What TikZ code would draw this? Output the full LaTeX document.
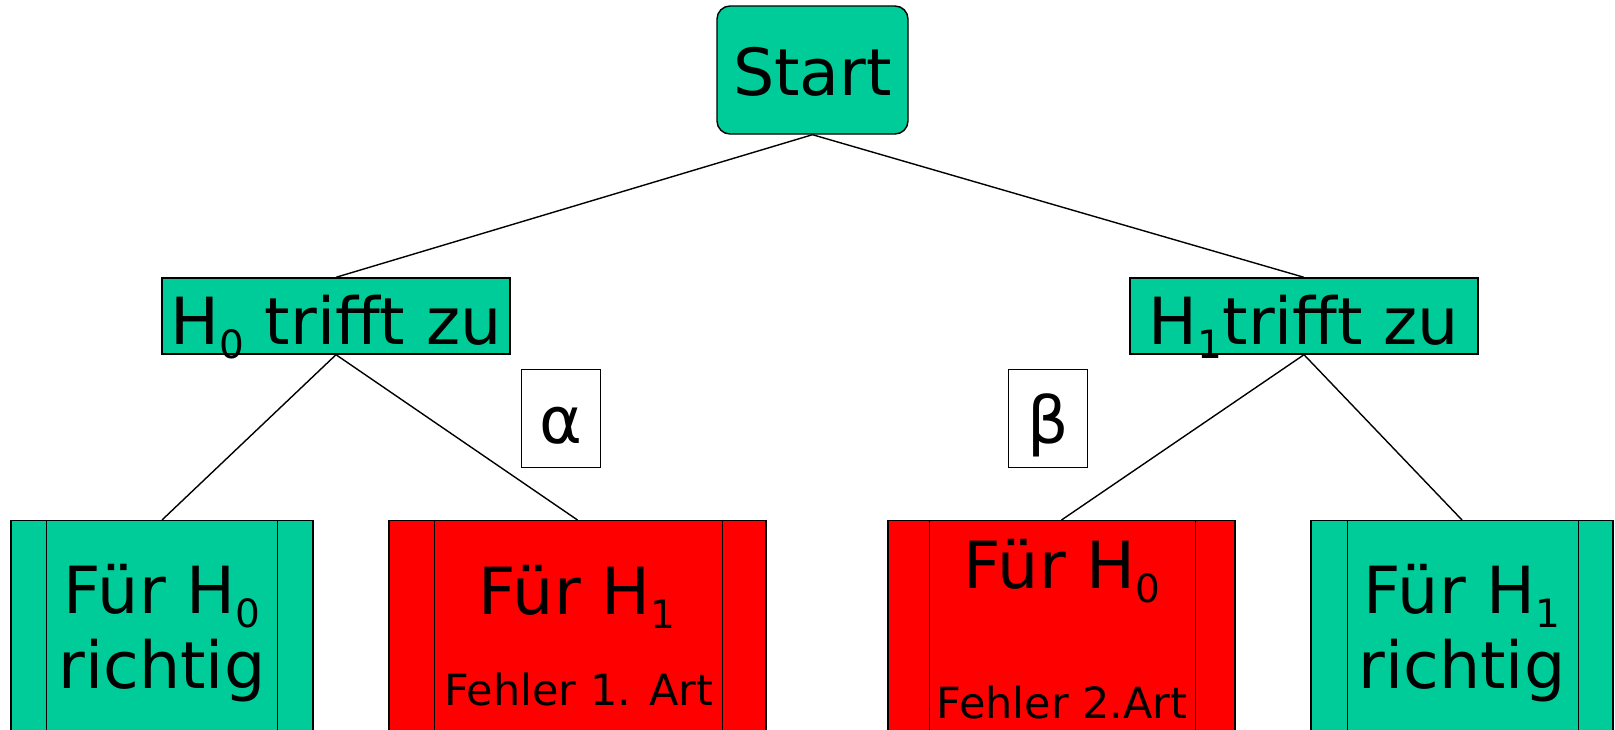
\documentclass[tikz,border=0pt]{standalone}
\usepackage{fontspec}
\setmainfont{DejaVu Sans}
\definecolor{boxgreen}{RGB}{0,204,153}
\definecolor{boxred}{RGB}{255,0,0}
\newcommand\subsc[1]{\raisebox{-14pt}{\fontsize{39}{39}\selectfont #1}}
\begin{document}
\begin{tikzpicture}[x=1pt,y=-1pt,
  big/.style={font=\fontsize{65}{65}\selectfont},
  small/.style={font=\fontsize{43}{43}\selectfont},
  edge/.style={line width=1.4pt},
  boxbase/.style={draw, line width=1.4pt, inner sep=0pt},
  gbox/.style={boxbase, fill=boxgreen},
  rbox/.style={boxbase, fill=boxred},
  lbox/.style={draw, line width=0.8pt, fill=white, inner sep=0pt, minimum width=79pt, minimum height=98pt, text height=50pt, text depth=0pt, big},
  inner/.style={line width=1.2pt}
]
\useasboundingbox (0,0) rectangle (1615,729);
\clip (0,0) rectangle (1615,729);

% top
\node[gbox, big, rounded corners=13pt, minimum width=191pt, minimum height=128pt, text height=50pt, text depth=0pt] (start) at (812.5,70) {Start};

% second level
\node[gbox, big, minimum width=348pt, minimum height=76pt, text height=56pt, text depth=0pt] (h0) at (336,316) {H\subsc{0} trifft zu};
\node[gbox, big, minimum width=348pt, minimum height=76pt, text height=56pt, text depth=0pt] (h1) at (1304,316) {H\subsc{1}trifft zu};

% probabilities
\node[lbox] (alpha) at (560.5,418) {α};
\node[lbox] (beta) at (1048,418) {β};

% bottom boxes
\node[gbox, anchor=north, minimum width=302pt, minimum height=260pt] (b1) at (162,520) {};
\node[rbox, anchor=north, minimum width=377pt, minimum height=260pt] (b2) at (577.5,520) {};
\node[rbox, anchor=north, minimum width=347pt, minimum height=260pt] (b3) at (1061.5,520) {};
\node[gbox, anchor=north, minimum width=302pt, minimum height=260pt] (b4) at (1462,520) {};

\draw[inner] ([xshift=36pt]b1.north west) -- ([xshift=36pt]b1.south west);
\draw[inner] ([xshift=-36pt]b1.north east) -- ([xshift=-36pt]b1.south east);
\draw[inner] ([xshift=46pt]b2.north west) -- ([xshift=46pt]b2.south west);
\draw[inner] ([xshift=-44pt]b2.north east) -- ([xshift=-44pt]b2.south east);
\draw[inner] ([xshift=42pt]b3.north west) -- ([xshift=42pt]b3.south west);
\draw[inner] ([xshift=-40pt]b3.north east) -- ([xshift=-40pt]b3.south east);
\draw[inner] ([xshift=37pt]b4.north west) -- ([xshift=37pt]b4.south west);
\draw[inner] ([xshift=-35pt]b4.north east) -- ([xshift=-35pt]b4.south east);

% texts in bottom boxes
\node[big, anchor=base, inner sep=0pt] (t1a) at (162,613) {Für H\subsc{0}};
\node[big, anchor=base, inner sep=0pt] (t1b) at (162,688) {richtig};
\node[big, anchor=base, inner sep=0pt] (t2a) at (577,614) {Für H\subsc{1}};
\node[small, anchor=base, inner sep=0pt] (t2b) at (579,705) {Fehler 1. Art};
\node[big, anchor=base, inner sep=0pt] (t3a) at (1062,588) {Für H\subsc{0}};
\node[small, anchor=base, inner sep=0pt] (t3b) at (1062,718) {Fehler 2.Art};
\node[big, anchor=base, inner sep=0pt] (t4a) at (1462,613) {Für H\subsc{1}};
\node[big, anchor=base, inner sep=0pt] (t4b) at (1462,688) {richtig};

% connectors
\draw[edge] (start.south) -- (h0.north);
\draw[edge] (start.south) -- (h1.north);
\draw[edge] (h0.south) -- (b1.north);
\draw[edge] (h0.south) -- (b2.north);
\draw[edge] (h1.south) -- (b3.north);
\draw[edge] (h1.south) -- (b4.north);
\end{tikzpicture}
\end{document}
